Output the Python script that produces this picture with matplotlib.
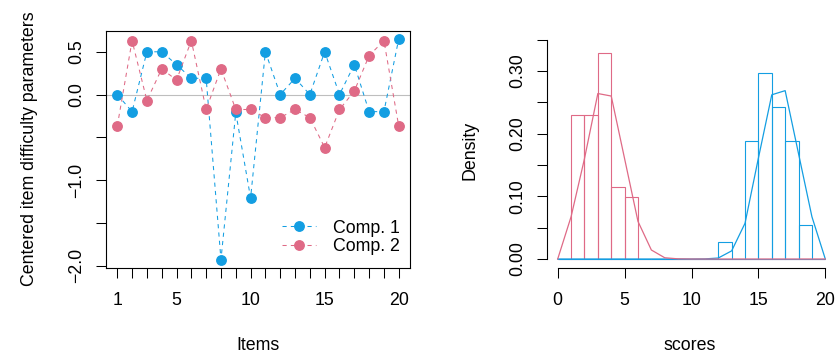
import numpy as np
import matplotlib
matplotlib.use("Agg")
import matplotlib.pyplot as plt

plt.rcParams['font.family'] = ['Liberation Sans', 'DejaVu Sans']
plt.rcParams['font.size'] = 12.8
plt.rcParams['axes.unicode_minus'] = True

blue = "#139EE2"
pink = "#DF6A86"

# left panel: item difficulty parameters per component
items = np.arange(1, 21)
comp1 = [0.0, -0.2, 0.5, 0.5, 0.35, 0.19, 0.19, -1.93, -0.21, -1.21,
         0.5, 0.0, 0.19, 0.0, 0.5, 0.0, 0.35, -0.2, -0.2, 0.65]
comp2 = [-0.37, 0.63, -0.07, 0.3, 0.17, 0.63, -0.175, 0.3, -0.175, -0.175,
         -0.27, -0.27, -0.175, -0.27, -0.62, -0.175, 0.04, 0.455, 0.63, -0.37]

# right panel: score histograms (bins of width 1 from 0 to 20) and fitted densities
bin_edges = np.arange(0, 21)
hist_pink = [0, 0.2295, 0.2295, 0.3279, 0.1148, 0.0984, 0, 0, 0, 0,
             0, 0, 0, 0, 0, 0, 0, 0, 0, 0]
hist_blue = [0, 0, 0, 0, 0, 0, 0, 0, 0, 0,
             0, 0, 0.027, 0, 0.189, 0.297, 0.243, 0.189, 0.054, 0]
scores = np.arange(0, 21)
dens_pink = [0, 0.0675, 0.16, 0.264, 0.26, 0.16, 0.06, 0.0144, 0.002, 0.0003,
             0, 0, 0, 0, 0, 0, 0, 0, 0, 0, 0]
dens_blue = [0, 0, 0, 0, 0, 0, 0, 0, 0, 0, 0, 0.0002, 0.0016, 0.013, 0.057,
             0.161, 0.262, 0.2686, 0.168, 0.0675, 0]

W, H = 840, 359
fig = plt.figure(figsize=(W / 100, H / 100), dpi=100)


def frac(x0, y0, x1, y1):
    # pixel box -> figure fraction [left, bottom, width, height]
    return [x0 / W, 1 - y1 / H, (x1 - x0) / W, (y1 - y0) / H]


ax1 = fig.add_axes(frac(106, 30.5, 410, 268))
ax2 = fig.add_axes(frac(547, 17.8, 836, 268.3))

# ---- left
ax1.axhline(0, color="#BEBEBE", lw=0.8, zorder=1)
ax1.plot(items, comp1, color=blue, ls=(0, (4, 4)), lw=0.75, marker="o",
         ms=6.8, mec=blue, label="Comp. 1", zorder=3)
ax1.plot(items, comp2, color=pink, ls=(0, (4, 4)), lw=0.75, marker="o",
         ms=6.8, mec=pink, label="Comp. 2", zorder=3)
ax1.set_xlim(0.24, 20.76)
ax1.set_ylim(-2.029, 0.749)
ax1.set_xticks(items)
ax1.set_xticklabels([str(i) if i in (1, 5, 10, 15, 20) else "" for i in items])
ax1.set_yticks([-2.0, -1.5, -1.0, -0.5, 0.0, 0.5])
ax1.set_yticklabels(["\u22122.0", "", "\u22121.0", "", "0.0", "0.5"],
                    rotation=90, va="center")
for s in ax1.spines.values():
    s.set_linewidth(0.8)
ax1.tick_params(length=7, width=0.75, pad=8)
ax1.tick_params(axis="x", pad=10)
ax1.legend(loc="lower right", bbox_to_anchor=(0.997, 0.016), frameon=False,
           borderpad=0, handlelength=1.9, handletextpad=1.0, labelspacing=0.1,
           fontsize=12.8)

# ---- right
ax2.bar(bin_edges[:-1], hist_pink, width=1, align="edge", fill=False,
        edgecolor=pink, lw=0.8)
ax2.bar(bin_edges[:-1], hist_blue, width=1, align="edge", fill=False,
        edgecolor=blue, lw=0.8)
ax2.plot(scores, dens_blue, color=blue, lw=0.9)
ax2.plot(scores, dens_pink, color=pink, lw=0.9)
ax2.set_xlim(-0.8, 20.8)
ax2.set_ylim(-0.0148, 0.3848)
ax2.set_xticks([0, 5, 10, 15, 20])
ax2.set_yticks(np.arange(0, 0.351, 0.05))
ax2.set_yticklabels(["0.00", "", "0.10", "", "0.20", "", "0.30", ""],
                    rotation=90, va="center")
ax2.spines["top"].set_visible(False)
ax2.spines["right"].set_visible(False)
ax2.spines["left"].set_bounds(0, 0.35)
ax2.spines["bottom"].set_bounds(0, 20)
for s in ax2.spines.values():
    s.set_linewidth(0.8)
ax2.tick_params(length=7, width=0.75, pad=8)
ax2.tick_params(axis="x", pad=10)

# axis titles
fig.text(258 / W, 1 - 345 / H, "Items", ha="center", va="center")
fig.text(690 / W, 1 - 345 / H, "scores", ha="center", va="center")
fig.text(30 / W, 1 - 149 / H, "Centered item difficulty parameters",
         rotation=90, ha="center", va="center")
fig.text(470 / W, 1 - 150 / H, "Density", rotation=90, ha="center", va="center")

fig.savefig("out.png", dpi=100)
